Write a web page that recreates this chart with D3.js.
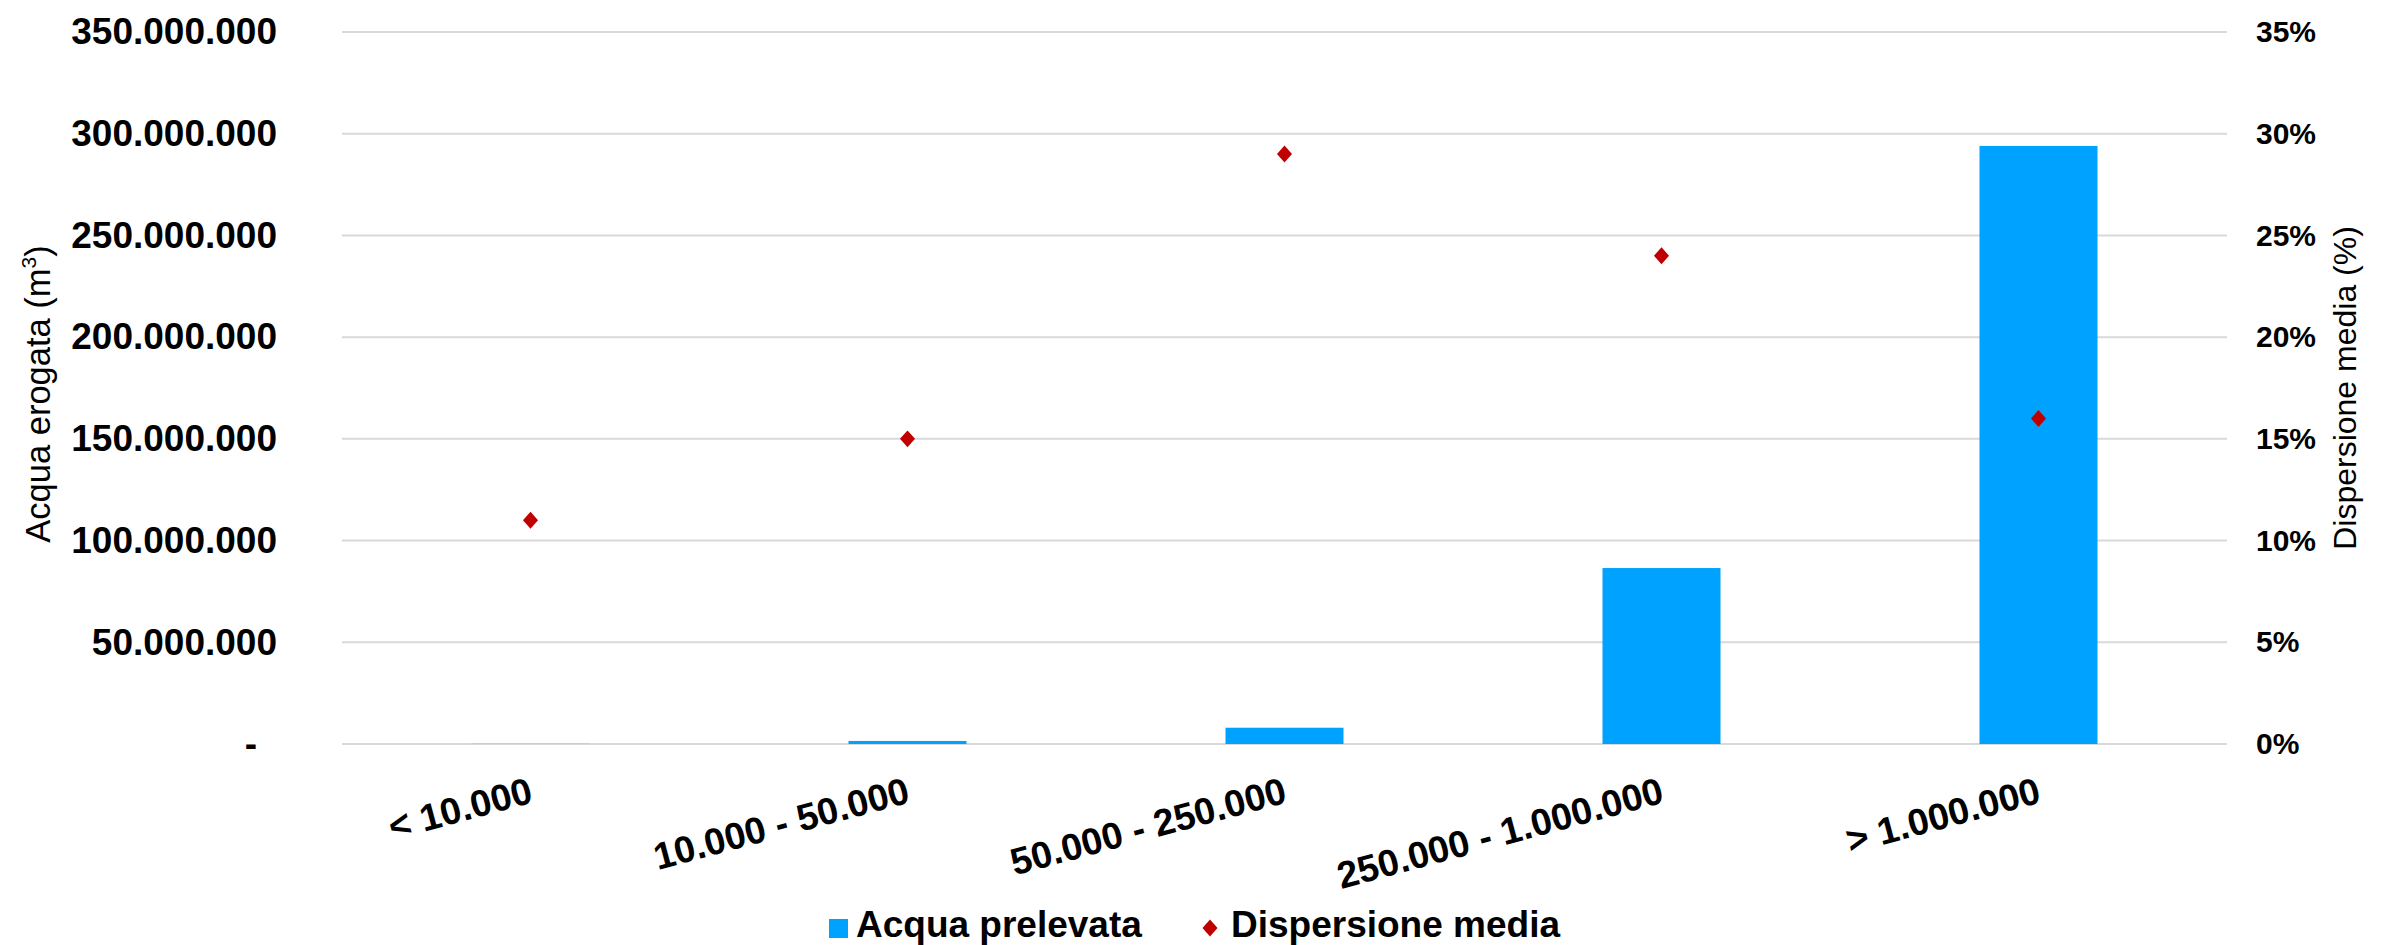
<!DOCTYPE html>
<html>
<head>
<meta charset="utf-8">
<script src="https://cdn.jsdelivr.net/npm/d3@7"></script>
<style>
  html, body { margin: 0; padding: 0; background: #fff; }
  svg { display: block; }
  text { font-family: Arial, "Liberation Sans", sans-serif; }
</style>
</head>
<body>
<svg id="chart" width="2388" height="945"></svg>
<script>
// ---- data ----
const categories = ["< 10.000", "10.000 - 50.000", "50.000 - 250.000", "250.000 - 1.000.000", "> 1.000.000"];
const acquaPrelevata = [60000, 1500000, 8000000, 86500000, 294000000];
const dispersioneMedia = [0.11, 0.15, 0.29, 0.24, 0.16];
const leftTicks = [0, 50000000, 100000000, 150000000, 200000000, 250000000, 300000000, 350000000];
const rightTicks = [0, 0.05, 0.10, 0.15, 0.20, 0.25, 0.30, 0.35];
const seriesNames = ["Acqua prelevata", "Dispersione media"];
const leftTitle = "Acqua erogata (m";
const rightTitle = "Dispersione media (%)";

// ---- layout ----
const W = 2388, H = 945;
const plot = { left: 342, right: 2227, top: 32, bottom: 744 };
const barColor = "#00A2FF";
const dotColor = "#C00000";
const gridColor = "#D9D9D9";

const svg = d3.select("#chart");

const x = d3.scaleBand().domain(categories).range([plot.left, plot.right]).padding(0);
const barW = x.bandwidth() * 0.313;
const yL = d3.scaleLinear().domain([0, 350000000]).range([plot.bottom, plot.top]);
const yR = d3.scaleLinear().domain([0, 0.35]).range([plot.bottom, plot.top]);

const itFmt = d3.formatLocale({ decimal: ",", thousands: ".", grouping: [3], currency: ["€", ""] });
const fmtL = v => v === 0 ? "-" : itFmt.format(",.0f")(v);
const fmtR = d3.format(".0%");

// gridlines
svg.append("g").selectAll("line").data(leftTicks).join("line")
  .attr("x1", plot.left).attr("x2", plot.right)
  .attr("y1", d => yL(d)).attr("y2", d => yL(d))
  .attr("stroke", gridColor).attr("stroke-width", 2);

// left axis
const gL = svg.append("g").attr("transform", `translate(${plot.left},0)`)
  .call(d3.axisLeft(yL).tickValues(leftTicks).tickFormat(fmtL).tickSize(0).tickPadding(65));
gL.select(".domain").remove();
gL.selectAll("text").attr("font-family", "Arial, 'Liberation Sans', sans-serif")
  .attr("font-size", 37).attr("font-weight", "bold").attr("fill", "#000")
  .attr("dx", d => d === 0 ? -20 : 0);

// right axis
const gR = svg.append("g").attr("transform", `translate(${plot.right},0)`)
  .call(d3.axisRight(yR).tickValues(rightTicks).tickFormat(fmtR).tickSize(0).tickPadding(29));
gR.select(".domain").remove();
gR.selectAll("text").attr("font-family", "Arial, 'Liberation Sans', sans-serif")
  .attr("font-size", 30).attr("font-weight", "bold").attr("fill", "#000");

// bars
svg.append("g").selectAll("rect").data(categories).join("rect")
  .attr("x", (d) => x(d) + x.bandwidth() / 2 - barW / 2)
  .attr("width", barW)
  .attr("y", (d, i) => yL(acquaPrelevata[i]))
  .attr("height", (d, i) => yL(0) - yL(acquaPrelevata[i]))
  .attr("fill", barColor);

// diamond markers
const diamondType = {
  draw(ctx, size) {
    const w = Math.sqrt(size) * 0.47, h = Math.sqrt(size) * 0.53;
    ctx.moveTo(0, -h); ctx.lineTo(w, 0); ctx.lineTo(0, h); ctx.lineTo(-w, 0); ctx.closePath();
  }
};
svg.append("g").selectAll("path").data(categories).join("path")
  .attr("transform", (d, i) => `translate(${x(d) + x.bandwidth() / 2},${yR(dispersioneMedia[i])})`)
  .attr("d", d3.symbol().type(diamondType).size(256))
  .attr("fill", dotColor);

// x labels (rotated)
svg.append("g").selectAll("text").data(categories).join("text")
  .attr("transform", d => `translate(${x(d) + x.bandwidth() / 2 + 4},${plot.bottom + 58}) rotate(-15)`)
  .attr("text-anchor", "end")
  .attr("font-size", 37.5).attr("font-weight", "bold").attr("fill", "#000")
  .text(d => d);

// left title
const lt = svg.append("text")
  .attr("transform", `translate(50,${(plot.top + plot.bottom) / 2 + 6}) rotate(-90)`)
  .attr("text-anchor", "middle").attr("font-size", 34.5).attr("fill", "#000");
lt.append("tspan").text(leftTitle);
lt.append("tspan").attr("font-size", 21).attr("dy", -14).text("3");
lt.append("tspan").attr("dy", 14).text(")");

// right title
svg.append("text")
  .attr("transform", `translate(2333,${(plot.top + plot.bottom) / 2}) rotate(-90)`)
  .attr("text-anchor", "middle").attr("font-size", 32).attr("fill", "#000")
  .attr("dominant-baseline", "hanging")
  .text(rightTitle);

// legend
const leg = svg.append("g");
leg.append("rect").attr("x", 829).attr("y", 919).attr("width", 19).attr("height", 19).attr("fill", barColor);
leg.append("text").attr("x", 856).attr("y", 937).attr("font-size", 37).attr("font-weight", "bold").text(seriesNames[0]);
leg.append("path").attr("transform", "translate(1210,928)")
  .attr("d", d3.symbol().type(diamondType).size(256)).attr("fill", dotColor);
leg.append("text").attr("x", 1231).attr("y", 937).attr("font-size", 37).attr("font-weight", "bold").text(seriesNames[1]);
</script>
</body>
</html>
